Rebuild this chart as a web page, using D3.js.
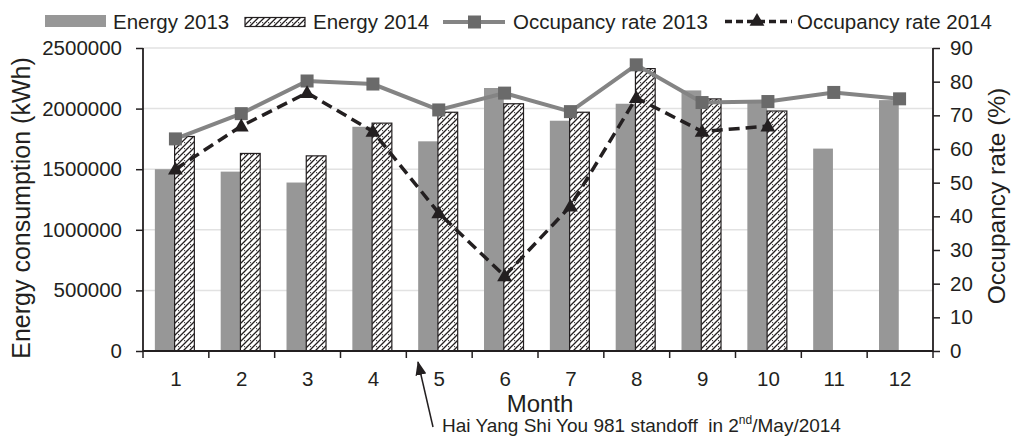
<!DOCTYPE html>
<html>
<head>
<meta charset="utf-8">
<script src="https://cdn.jsdelivr.net/npm/d3@7"></script>
<style>
  html, body { margin: 0; padding: 0; background: #fff; }
  svg { display: block; font-family: "Liberation Sans", Arial, Helvetica, sans-serif; }
</style>
</head>
<body>
<svg id="chart" width="1013" height="439"></svg>
<script>
// Monthly hotel energy use and occupancy, 2013 vs 2014
const months = [1, 2, 3, 4, 5, 6, 7, 8, 9, 10, 11, 12];
const energy2013 = [1500000, 1480000, 1390000, 1850000, 1730000, 2170000, 1900000, 2040000, 2150000, 2060000, 1670000, 2070000];
const energy2014 = [1770000, 1630000, 1610000, 1880000, 1970000, 2040000, 1970000, 2330000, 2080000, 1980000, null, null];
const occupancy2013 = [63, 70.5, 80.2, 79.3, 71.6, 76.6, 71.1, 85, 73.8, 74.1, 76.8, 74.9];
const occupancy2014 = [54, 66.8, 76.7, 65.2, 41, 22.3, 43, 75.2, 65.2, 66.8, null, null];
const energyTicks = [0, 500000, 1000000, 1500000, 2000000, 2500000];
const occupancyTicks = [0, 10, 20, 30, 40, 50, 60, 70, 80, 90];
const seriesNames = ["Energy 2013", "Energy 2014", "Occupancy rate 2013", "Occupancy rate 2014"];
const noteText = { main: "Hai Yang Shi You 981 standoff  in 2", sup: "nd", tail: "/May/2014" };

const ink = "#231f20";
const barGrey = "#979797";
const lineGrey = "#848484";
const markerGrey = "#6a6a6a";

const svg = d3.select("#chart");
const plotLeft = 143, plotRight = 933, plotTop = 48, plotBottom = 351;

const x = d3.scaleBand().domain(months).range([plotLeft, plotRight]).padding(0);
const inner = d3.scaleBand().domain(["e13", "e14"]).range([x.bandwidth() * 0.18, x.bandwidth() * 0.78]);
const yE = d3.scaleLinear().domain([0, 2500000]).range([plotBottom, plotTop]);
const yO = d3.scaleLinear().domain([0, 90]).range([plotBottom, plotTop]);
const cx = m => x(m) + x.bandwidth() / 2 - 0.5;

// hatch fill for the 2014 bars
const defs = svg.append("defs");
const pat = defs.append("pattern").attr("id", "hatch").attr("patternUnits", "userSpaceOnUse")
  .attr("width", 6).attr("height", 6);
pat.append("rect").attr("width", 6).attr("height", 6).attr("fill", "#fff");
pat.append("path").attr("d", "M0,6 L6,0 M-1.5,1.5 L1.5,-1.5 M4.5,7.5 L7.5,4.5")
  .attr("stroke", ink).attr("stroke-width", 1.3);
pat.append("circle").attr("cx", 4.6).attr("cy", 4.6).attr("r", 0.6).attr("fill", ink);

const arrowDef = defs.append("marker").attr("id", "arrowhead").attr("viewBox", "0 0 14 11")
  .attr("refX", 13).attr("refY", 5.5).attr("markerWidth", 14).attr("markerHeight", 11)
  .attr("markerUnits", "userSpaceOnUse").attr("orient", "auto");
arrowDef.append("path").attr("d", "M0,0 L14,5.5 L0,11 Z").attr("fill", ink);

// horizontal gridlines
svg.append("g").selectAll("line").data(energyTicks.filter(d => d > 0)).join("line")
  .attr("x1", plotLeft).attr("x2", plotRight)
  .attr("y1", d => yE(d)).attr("y2", d => yE(d))
  .attr("stroke", "#e2e2e2").attr("stroke-width", 1.5);

// bars
svg.append("g").selectAll("rect").data(months.map((m, i) => ({ m, v: energy2013[i] }))).join("rect")
  .attr("x", d => x(d.m) + inner("e13")).attr("width", inner.bandwidth())
  .attr("y", d => yE(d.v)).attr("height", d => yE(0) - yE(d.v))
  .attr("fill", barGrey);

svg.append("g").selectAll("rect").data(months.map((m, i) => ({ m, v: energy2014[i] })).filter(d => d.v != null)).join("rect")
  .attr("x", d => x(d.m) + inner("e14")).attr("width", inner.bandwidth())
  .attr("y", d => yE(d.v)).attr("height", d => yE(0) - yE(d.v))
  .attr("fill", "url(#hatch)").attr("stroke", ink).attr("stroke-width", 1.2);

// occupancy 2013
const occ13 = months.map((m, i) => ({ m, v: occupancy2013[i] }));
svg.append("path").datum(occ13)
  .attr("d", d3.line().x(d => cx(d.m)).y(d => yO(d.v)))
  .attr("fill", "none").attr("stroke", lineGrey).attr("stroke-width", 4);
svg.append("g").selectAll("rect").data(occ13).join("rect")
  .attr("x", d => cx(d.m) - 6.5).attr("y", d => yO(d.v) - 6.5)
  .attr("width", 13).attr("height", 13).attr("fill", markerGrey);

// occupancy 2014
const occ14 = months.map((m, i) => ({ m, v: occupancy2014[i] })).filter(d => d.v != null);
svg.append("path").datum(occ14)
  .attr("d", d3.line().x(d => cx(d.m)).y(d => yO(d.v)))
  .attr("fill", "none").attr("stroke", ink).attr("stroke-width", 3.5)
  .attr("stroke-dasharray", "11,6");
const tri = d3.symbol().type(d3.symbolTriangle).size(95);
svg.append("g").selectAll("path").data(occ14).join("path")
  .attr("transform", d => `translate(${cx(d.m)},${yO(d.v) + 1})`)
  .attr("d", tri).attr("fill", ink);

// axes
const fontTick = "20.5px";
const axisL = svg.append("g").attr("transform", `translate(${plotLeft},0)`)
  .call(d3.axisLeft(yE).tickValues(energyTicks).tickFormat(d3.format("d")).tickSize(7).tickPadding(14));
const axisR = svg.append("g").attr("transform", `translate(${plotRight},0)`)
  .call(d3.axisRight(yO).tickValues(occupancyTicks).tickSize(7).tickPadding(10));
const axisB = svg.append("g").attr("transform", `translate(0,${plotBottom})`)
  .call(d3.axisBottom(x).tickSize(0).tickPadding(20));
// tick marks on the month boundaries
const bounds = months.map(m => x(m)).concat([plotRight]);
svg.append("g").selectAll("line").data(bounds).join("line")
  .attr("x1", d => d).attr("x2", d => d).attr("y1", plotBottom).attr("y2", plotBottom + 7)
  .attr("stroke", ink).attr("stroke-width", 1.5);

[axisL, axisR, axisB].forEach(g => {
  g.select(".domain").attr("stroke", ink).attr("stroke-width", 1.8);
  g.selectAll(".tick line").attr("stroke", ink).attr("stroke-width", 1.5);
  g.selectAll(".tick text").attr("fill", ink).style("font-size", fontTick).style("font-family", "Liberation Sans, Arial, sans-serif");
});
axisL.select(".domain").attr("d", `M0,${plotTop}V${plotBottom}`);
axisR.select(".domain").attr("d", `M0,${plotTop}V${plotBottom}`);
axisB.select(".domain").attr("d", `M${plotLeft},0H${plotRight}`);

// axis titles
svg.append("text").attr("transform", `translate(30,208) rotate(-90)`)
  .attr("text-anchor", "middle").attr("fill", ink).style("font-size", "25px")
  .text("Energy consumption (kWh)");
svg.append("text").attr("transform", `translate(1005,196) rotate(-90)`)
  .attr("text-anchor", "middle").attr("fill", ink).style("font-size", "24.5px")
  .text("Occupancy rate (%)");
svg.append("text").attr("x", 540).attr("y", 412).attr("text-anchor", "middle")
  .attr("fill", ink).style("font-size", "24px").text("Month");

// annotation
svg.append("line").attr("x1", 433).attr("y1", 427).attr("x2", 418).attr("y2", 362)
  .attr("stroke", ink).attr("stroke-width", 1.5).attr("marker-end", "url(#arrowhead)");
const note = svg.append("text").attr("x", 442).attr("y", 432).attr("fill", ink)
  .style("font-size", "19px").style("white-space", "pre");
note.append("tspan").text(noteText.main);
note.append("tspan").attr("dy", -8).style("font-size", "12px").text(noteText.sup);
note.append("tspan").attr("dy", 8).text(noteText.tail);

// legend
const lg = svg.append("g");
const ly = 29;
lg.append("rect").attr("x", 45).attr("y", 15).attr("width", 61).attr("height", 12).attr("fill", barGrey);
lg.append("text").attr("x", 113).attr("y", ly).text(seriesNames[0]);
lg.append("rect").attr("x", 245).attr("y", 17.5).attr("width", 60).attr("height", 9)
  .attr("fill", "url(#hatch)").attr("stroke", ink).attr("stroke-width", 1.2);
lg.append("text").attr("x", 313).attr("y", ly).text(seriesNames[1]);
lg.append("line").attr("x1", 443).attr("x2", 505).attr("y1", 22).attr("y2", 22)
  .attr("stroke", lineGrey).attr("stroke-width", 4);
lg.append("rect").attr("x", 468).attr("y", 15.5).attr("width", 13).attr("height", 13).attr("fill", markerGrey);
lg.append("text").attr("x", 513).attr("y", ly).text(seriesNames[2]);
lg.append("line").attr("x1", 725).attr("x2", 792).attr("y1", 21.5).attr("y2", 21.5)
  .attr("stroke", ink).attr("stroke-width", 3.5).attr("stroke-dasharray", "7,4");
lg.append("path").attr("transform", "translate(757,21.5)").attr("d", tri).attr("fill", ink);
lg.append("text").attr("x", 797).attr("y", ly).text(seriesNames[3]);
lg.selectAll("text").attr("fill", ink).style("font-size", "20.5px");
</script>
</body>
</html>
